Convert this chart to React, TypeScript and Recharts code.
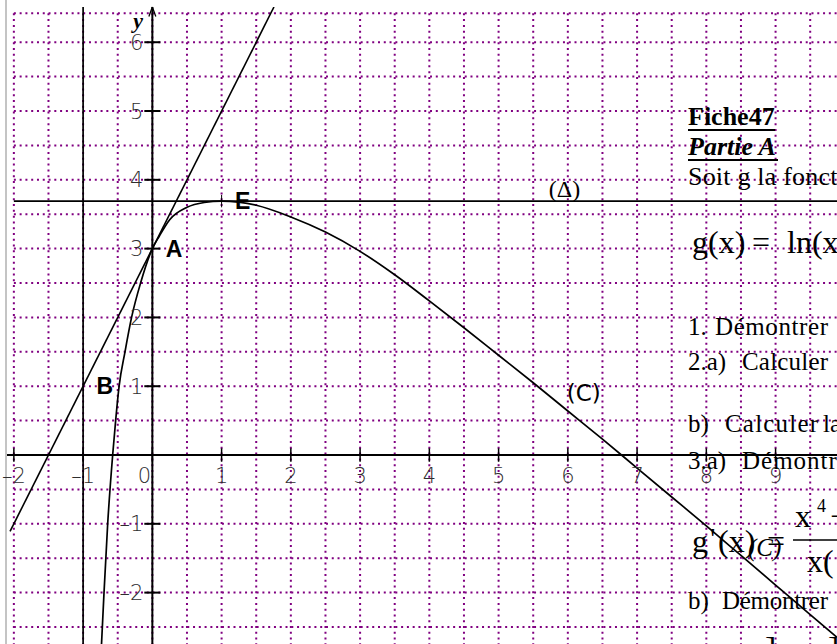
import React from 'react';
import { LineChart, Line, XAxis, YAxis, ReferenceLine, ReferenceDot } from 'recharts';

// curve (C)
const CURVE_X = [-0.734, -0.698, -0.645, -0.573, -0.53, -0.48, -0.395, -0.3, -0.17, 0, 0.1, 0.25, 0.5, 0.75, 1, 1.5, 2, 2.5, 3, 3.5, 4, 4.5, 5, 5.5, 6, 6.5, 7, 7.5, 8, 8.5, 9, 9.5, 9.887];
const CURVE_Y = [-2.747, -2, -1, 0, 0.5, 1, 1.5, 2, 2.5, 3, 3.18, 3.42, 3.6, 3.67, 3.69, 3.63, 3.46, 3.24, 2.96, 2.62, 2.24, 1.85, 1.45, 1.05, 0.64, 0.23, -0.19, -0.61, -1.03, -1.46, -1.89, -2.32, -2.65];

// tangent at A
const TANGENT_X = [-2.055, 1.756];
const TANGENT_Y = [-1.11, 6.512];

const DELTA_Y = 3.69;
const ASYMPTOTE_X = -1;

const X_TICKS = [-2, -1, 0, 1, 2, 3, 4, 5, 6, 7, 8, 9];
const Y_TICKS = [-2, -1, 1, 2, 3, 4, 5, 6];
const X_GRID = [-2, -1.5, -1, -0.5, 0, 0.5, 1, 1.5, 2, 2.5, 3, 3.5, 4, 4.5, 5, 5.5, 6, 6.5, 7, 7.5, 8, 8.5, 9, 9.5];
const Y_GRID = [-2.5, -2, -1.5, -1, -0.5, 0.5, 1, 1.5, 2, 2.5, 3, 3.5, 4, 4.5, 5, 5.5, 6, 6.42];

const POINTS = [
  { name: 'A', x: 0, y: 3 },
  { name: 'B', x: -1, y: 1 },
  { name: 'E', x: 1, y: 3.69 },
];

const X_DOMAIN: [number, number] = [-2.099, 9.887];
const Y_DOMAIN: [number, number] = [-2.747, 6.512];

const curve = CURVE_X.map((x, i) => ({ x, y: CURVE_Y[i] }));
const tangent = TANGENT_X.map((x, i) => ({ x, y: TANGENT_Y[i] }));

const GRID = '#800080';
const tickFont = { fontFamily: '"DejaVu Sans", sans-serif', fontSize: 21, fontWeight: 200, fill: '#2e2e2e' };
const ptFont = { fontFamily: '"Liberation Sans", Arial, sans-serif', fontSize: 23, fontWeight: 700, fill: '#000' };
const serif = '"Liberation Serif", "Times New Roman", serif';

const textAt = (label: string, dx: number, dy: number, style: any, anchor = 'start') => (p: any) => (
  <text x={p.cx + dx} y={p.cy + dy} textAnchor={anchor} style={style}>
    {label}
  </text>
);

const minus = (t: number) => (t < 0 ? '–' + Math.abs(t) : String(t));

export default function App() {
  const top = Y_GRID[Y_GRID.length - 1];
  return (
    <div style={{ position: 'absolute', left: 0, top: 0, width: 837, height: 644, overflow: 'hidden', background: '#fff' }}>
      <div style={{ position: 'absolute', left: 5, top: 0, width: 2, height: 644, background: '#c4c4c4' }} />
      <LineChart width={837} height={644} margin={{ top: 7, right: 0, bottom: 0, left: 7 }}>
        <XAxis type="number" dataKey="x" domain={X_DOMAIN} allowDataOverflow hide />
        <YAxis type="number" dataKey="y" domain={Y_DOMAIN} allowDataOverflow hide />

        {X_GRID.map((g) => (
          <ReferenceLine
            key={'vx' + g}
            segment={[{ x: g, y: top }, { x: g, y: Y_DOMAIN[0] }]}
            stroke={GRID}
            strokeWidth={2}
            strokeDasharray="2 3.78"
            ifOverflow="visible"
          />
        ))}
        {Y_GRID.map((g) => (
          <ReferenceLine
            key={'hy' + g}
            segment={[{ x: -2, y: g }, { x: X_DOMAIN[1], y: g }]}
            stroke={GRID}
            strokeWidth={2}
            strokeDasharray="2 3.78"
            ifOverflow="visible"
          />
        ))}

        <ReferenceLine y={0} stroke="#000" strokeWidth={2} ifOverflow="visible" />
        <ReferenceLine x={0} stroke="#000" strokeWidth={2} ifOverflow="visible" />
        <ReferenceLine x={ASYMPTOTE_X} stroke="#000" strokeWidth={1.7} ifOverflow="visible" />
        <ReferenceLine
          segment={[{ x: -2, y: DELTA_Y }, { x: X_DOMAIN[1], y: DELTA_Y }]}
          stroke="#000"
          strokeWidth={1.6}
          ifOverflow="visible"
        />
        <ReferenceLine segment={[{ x: 0, y: Y_DOMAIN[1] }, { x: -0.05, y: Y_DOMAIN[1] - 0.137 }]} stroke="#000" strokeWidth={1.3} ifOverflow="visible" />
        <ReferenceLine segment={[{ x: 0, y: Y_DOMAIN[1] }, { x: 0.05, y: Y_DOMAIN[1] - 0.137 }]} stroke="#000" strokeWidth={1.3} ifOverflow="visible" />

        {X_TICKS.map((t) => (
          <ReferenceLine key={'tx' + t} segment={[{ x: t, y: -0.098 }, { x: t, y: 0.098 }]} stroke="#000" strokeWidth={1.5} ifOverflow="visible" />
        ))}
        {Y_TICKS.map((t) => (
          <ReferenceLine key={'ty' + t} segment={[{ x: -0.116, y: t }, { x: 0.116, y: t }]} stroke="#000" strokeWidth={2} ifOverflow="visible" />
        ))}
        <ReferenceLine segment={[{ x: 1, y: DELTA_Y - 0.09 }, { x: 1, y: DELTA_Y + 0.09 }]} stroke="#000" strokeWidth={1} ifOverflow="visible" />

        <Line data={curve} dataKey="y" type="monotone" stroke="#000" strokeWidth={1.7} dot={false} isAnimationActive={false} />
        <Line data={tangent} dataKey="y" type="linear" stroke="#000" strokeWidth={1.6} dot={false} isAnimationActive={false} />

        {X_TICKS.map((t) => (
          <ReferenceDot key={'lx' + t} x={t} y={0} r={0} ifOverflow="visible" shape={textAt(minus(t), t === 0 ? -8 : 0, 28, tickFont, 'middle')} />
        ))}
        {Y_TICKS.map((t) => (
          <ReferenceDot key={'ly' + t} x={0} y={t} r={0} ifOverflow="visible" shape={textAt(minus(t), -9, 7.5, tickFont, 'end')} />
        ))}
        {POINTS.map((p) => (
          <ReferenceDot key={p.name} x={p.x} y={p.y} r={0} ifOverflow="visible" shape={textAt(p.name, 13.5, 8, ptFont)} />
        ))}
        <ReferenceDot x={6} y={1} r={0} ifOverflow="visible" shape={textAt('(C)', -1, 15, { fontFamily: '"DejaVu Sans", sans-serif', fontSize: 23, fill: '#000' })} />
        <ReferenceDot x={6} y={DELTA_Y} r={0} ifOverflow="visible" shape={textAt('(Δ)', -19, -4, { fontFamily: serif, fontSize: 24, fill: '#000' })} />
        <ReferenceDot x={0} y={6} r={0} ifOverflow="visible" shape={textAt('y', -19, -14, { fontFamily: serif, fontSize: 22, fontWeight: 700, fontStyle: 'italic', fill: '#000' })} />
      </LineChart>

      <svg width={837} height={644} style={{ position: 'absolute', left: 0, top: 0, overflow: 'hidden', pointerEvents: 'none' }}>
        <g fontFamily={serif} fill="#000">
          <text x={688} y={125} fontSize={26} fontWeight={700}>Fiche47</text>
          <line x1={688} x2={775} y1={130} y2={130} stroke="#000" strokeWidth={2} />
          <text x={688} y={155} fontSize={26} fontWeight={700} fontStyle="italic">Partie A</text>
          <line x1={688} x2={778} y1={160} y2={160} stroke="#000" strokeWidth={2} />
          <text x={688} y={185} fontSize={26} letterSpacing={0.2}>Soit g la fonction</text>

          <text x={692} y={253} fontSize={32}>g(x)</text>
          <text x={752} y={253} fontSize={32}>=</text>
          <text x={787} y={253} fontSize={32}>ln(x</text>

          <text x={688} y={335} fontSize={25}>1.</text>
          <text x={715} y={335} fontSize={25} textLength={113} lengthAdjust="spacing">Démontrer</text>
          <text x={688} y={370} fontSize={25}>2.a)</text>
          <text x={742} y={370} fontSize={25} textLength={86} lengthAdjust="spacing">Calculer</text>
          <text x={688} y={432} fontSize={25}>b)</text>
          <text x={725} y={432} fontSize={25} textLength={93} lengthAdjust="spacing">Calculer</text>
          <text x={823} y={432} fontSize={25}>la</text>
          <text x={688} y={469} fontSize={25}>3.a)</text>
          <text x={742} y={469} fontSize={25} letterSpacing={1}>Démontrer</text>

          <text x={692} y={552} fontSize={32}>g</text>
          <text x={710} y={548} fontSize={30}>'</text>
          <text x={718} y={552} fontSize={32}>(x)</text>
          <text x={767} y={552} fontSize={32}>=</text>
          <text x={748} y={556} fontSize={25} fontStyle="italic">(C)</text>
          <text x={795} y={527} fontSize={32}>x</text>
          <text x={817} y={512} fontSize={18}>4</text>
          <text x={830} y={527} fontSize={32}>−</text>
          <line x1={793} x2={837} y1={540} y2={540} stroke="#000" strokeWidth={1.5} />
          <text x={807} y={572} fontSize={32}>x(</text>

          <text x={688} y={609} fontSize={25}>b)</text>
          <text x={722} y={609} fontSize={25} textLength={106} lengthAdjust="spacing">Démontrer</text>
          <text x={765} y={660} fontSize={34}>]</text>
          <text x={828} y={660} fontSize={34}>]</text>
        </g>
      </svg>
    </div>
  );
}
